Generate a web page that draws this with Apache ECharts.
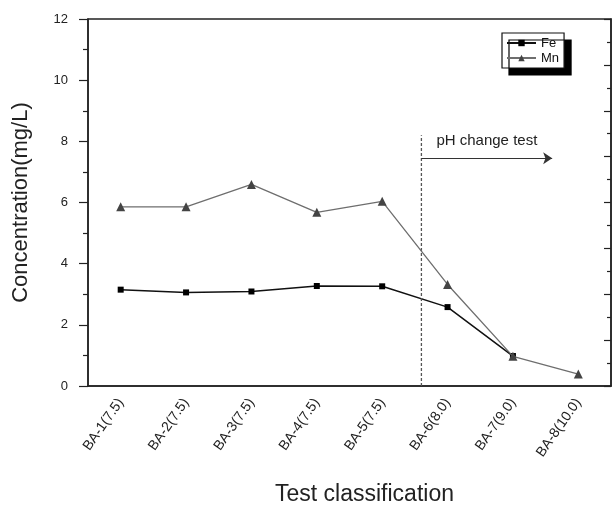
<!DOCTYPE html>
<html>
<head>
<meta charset="utf-8">
<script src="https://cdn.jsdelivr.net/npm/echarts@6/dist/echarts.min.js"></script>
<style>
  html, body { margin: 0; padding: 0; background: #fff; }
  #chart { width: 613px; height: 511px; }
</style>
</head>
<body>
<div id="chart"></div>
<script>
// categories and measured values (mg/L)
var categories = ['BA-1(7.5)', 'BA-2(7.5)', 'BA-3(7.5)', 'BA-4(7.5)', 'BA-5(7.5)', 'BA-6(8.0)', 'BA-7(9.0)', 'BA-8(10.0)'];
var feValues = [3.15, 3.06, 3.09, 3.27, 3.26, 2.58, 0.98, null];
var mnValues = [5.86, 5.86, 6.59, 5.68, 6.04, 3.32, 0.97, 0.39];

// pH change test annotation (x in category index units, y in mg/L)
var dividerX = 4.6;
var dividerTop = 8.2;
var arrowY = 7.45;
var arrowEndX = 6.6;

var font = '"Liberation Sans", Arial, sans-serif';

var myChart = echarts.init(document.getElementById('chart'));
var option = {
    animation: false,
    backgroundColor: '#fff',
    textStyle: { fontFamily: font },
    grid: {
        left: 88, right: 2, top: 19, bottom: 122,
        show: true, borderColor: '#222', borderWidth: 1.5
    },
    legend: {
        left: 502, top: 33,
        orient: 'vertical',
        backgroundColor: '#fff',
        borderColor: '#111', borderWidth: 1.2,
        shadowColor: '#000', shadowBlur: 0, shadowOffsetX: 7, shadowOffsetY: 7,
        padding: [3, 5, 3, 4],
        itemWidth: 29, itemHeight: 8, itemGap: 1, itemTextGap: 1,
        textStyle: { fontSize: 13, color: '#111', fontFamily: font, lineHeight: 14, padding: 0 },
        data: ['Fe', 'Mn']
    },
    xAxis: [
        {
            type: 'category',
            data: categories,
            boundaryGap: true,
            name: 'Test classification',
            nameLocation: 'middle',
            nameGap: 97,
            nameTextStyle: { fontSize: 23, color: '#222', fontFamily: font, padding: [0, 0, 0, 30] },
            axisLine: { lineStyle: { color: '#222', width: 1.5 } },
            axisTick: { alignWithLabel: true, length: 5, lineStyle: { color: '#222', width: 1.2 } },
            axisLabel: { rotate: 55, margin: 14, fontSize: 14, color: '#222', fontFamily: font, interval: 0 },
            splitLine: { show: false }
        },
        {
            // hidden linear axis for the annotation line and arrow
            type: 'value',
            min: -0.5, max: 7.5,
            show: false
        }
    ],
    yAxis: [
        {
            type: 'value',
            min: 0, max: 12, interval: 2,
            name: 'Concentration(mg/L)',
            nameLocation: 'middle',
            nameGap: 56,
            nameTextStyle: { fontSize: 22, color: '#222', fontFamily: font },
            axisLine: { show: true, onZero: false, lineStyle: { color: '#222', width: 1.5 } },
            axisTick: { show: true, length: 9, lineStyle: { color: '#222', width: 1.2 } },
            minorTick: { show: true, splitNumber: 2, length: 5, lineStyle: { color: '#222', width: 1.2 } },
            axisLabel: { margin: 20, fontSize: 13, color: '#222', fontFamily: font },
            splitLine: { show: false }
        },
        {
            type: 'value',
            position: 'right',
            min: 0, max: 16, interval: 2,
            axisLine: { show: true, onZero: false, lineStyle: { color: '#222', width: 1.5 } },
            axisTick: { show: true, inside: true, length: 7, lineStyle: { color: '#222', width: 1.2 } },
            minorTick: { show: true, splitNumber: 2, length: 4, lineStyle: { color: '#222', width: 1.2 } },
            axisLabel: { show: false },
            splitLine: { show: false }
        }
    ],
    series: [
        {
            name: 'Fe',
            type: 'line',
            data: feValues,
            symbol: 'rect',
            symbolSize: 6,
            itemStyle: { color: '#000' },
            lineStyle: { color: '#111', width: 1.5 },
            z: 3
        },
        {
            name: 'Mn',
            type: 'line',
            data: mnValues,
            symbol: 'triangle',
            symbolSize: 9,
            itemStyle: { color: '#444' },
            lineStyle: { color: '#6e6e6e', width: 1.3 },
            z: 4
        },
        {
            name: 'divider',
            type: 'line',
            xAxisIndex: 1,
            data: [[dividerX, 0], [dividerX, dividerTop]],
            symbol: 'none',
            silent: true,
            lineStyle: { color: '#555', width: 1.3, type: [3, 2] },
            markLine: {
                silent: true,
                symbol: ['none', 'arrow'],
                symbolSize: [9, 9],
                lineStyle: { color: '#333', width: 1.2, type: 'solid' },
                label: {
                    show: true,
                    position: 'insideStartTop',
                    distance: [15, 10],
                    formatter: 'pH change test',
                    fontSize: 15, color: '#222', fontFamily: font
                },
                data: [[{ coord: [dividerX, arrowY] }, { coord: [arrowEndX, arrowY] }]]
            }
        }
    ]
};
myChart.setOption(option);
</script>
</body>
</html>
